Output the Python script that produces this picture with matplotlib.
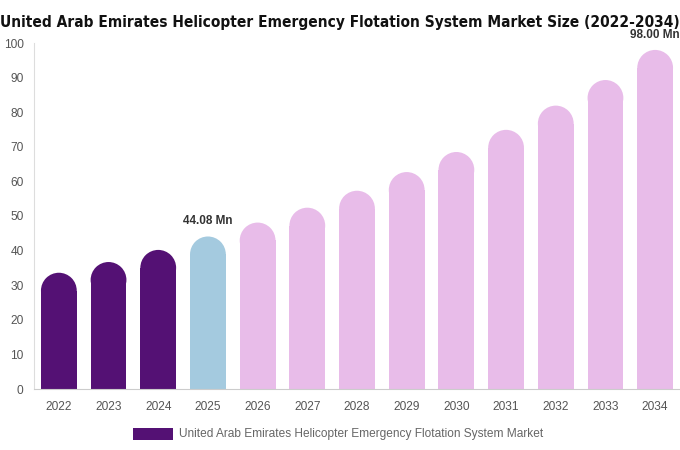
import matplotlib
matplotlib.use("Agg")
import matplotlib.pyplot as plt
from matplotlib.patches import Ellipse, Rectangle

years = ["2022", "2023", "2024", "2025", "2026", "2027", "2028", "2029", "2030", "2031", "2032", "2033", "2034"]
values = [33.6, 36.7, 40.2, 44.08, 48.1, 52.4, 57.3, 62.7, 68.5, 74.9, 81.9, 89.3, 98.0]
yticks = [0, 10, 20, 30, 40, 50, 60, 70, 80, 90, 100]
title = "United Arab Emirates Helicopter Emergency Flotation System Market Size (2022-2034)"
legend_label = "United Arab Emirates Helicopter Emergency Flotation System Market"
annotations = {3: "44.08 Mn", 12: "98.00 Mn"}

C_HIST = "#541174"
C_CUR = "#A4CADF"
C_FUT = "#E8BCE9"
colors = [C_HIST] * 3 + [C_CUR] + [C_FUT] * 9

W, H = 680, 450
fig = plt.figure(figsize=(W / 100, H / 100), dpi=100)
ax = fig.add_axes([34 / W, 1 - 389 / H, (680 - 34) / W, (389 - 43) / H])
ax.set_xlim(-0.5, len(years) - 0.5)
ax.set_ylim(0, 100)

bw = 0.72
px_per_x = (680 - 34) / len(years)
px_per_y = (389 - 43) / 100
ry = (bw / 2) * px_per_x / px_per_y

for i, (v, c) in enumerate(zip(values, colors)):
    ax.bar(i, v - ry, width=bw, color=c, linewidth=0, zorder=2)
    ax.add_patch(Ellipse((i, v - ry), bw, 2 * ry, color=c, linewidth=0, zorder=2))

for i, txt in annotations.items():
    ax.text(i, values[i] + 2.6, txt, ha="center", va="bottom", fontsize=8.5,
            fontweight="bold", color="#333333", family="Liberation Sans", clip_on=False)

ax.set_xticks(range(len(years)))
ax.set_xticklabels(years)
ax.set_yticks(yticks)
ax.tick_params(axis="both", length=0, labelsize=8.6, colors="#555555")
ax.tick_params(axis="x", pad=9)
ax.tick_params(axis="y", pad=7.5)
for lab in ax.get_xticklabels() + ax.get_yticklabels():
    lab.set_family("Liberation Sans")
for s in ["top", "right"]:
    ax.spines[s].set_visible(False)
ax.spines["left"].set_color("#dddddd")
ax.spines["bottom"].set_color("#cccccc")

t = fig.text(0.5, 1 - 26.5 / H, title, ha="center", va="baseline", fontsize=15,
             fontweight="bold", family="DejaVu Sans", fontstretch="condensed",
             color="#111111")
# shrink the title to fit the figure width
r = fig.canvas.get_renderer()
wpx = t.get_window_extent(renderer=r).width
if wpx > 678:
    t.set_fontsize(15 * 678 / wpx)

# legend
fig.patches.append(Rectangle((133 / W, 1 - 440 / H), 40 / W, 12 / H,
                             transform=fig.transFigure, color=C_HIST, linewidth=0))
fig.text(179 / W, 1 - 434 / H, legend_label, ha="left", va="center", fontsize=8.6,
         color="#666666", family="Liberation Sans")

fig.savefig("out.png", dpi=100)
